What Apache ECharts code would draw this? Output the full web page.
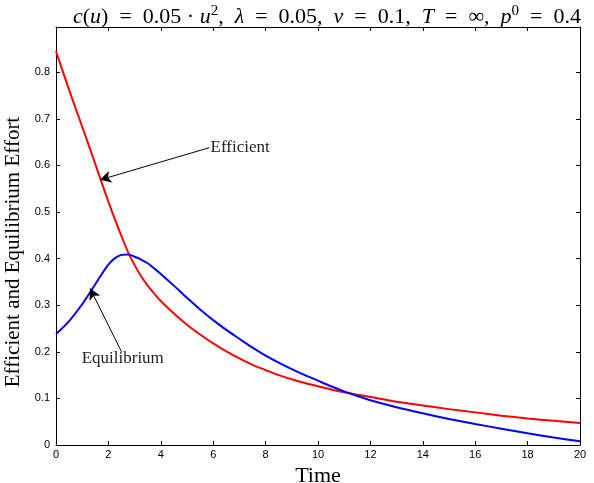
<!DOCTYPE html>
<html>
<head>
<meta charset="utf-8">
<script src="https://cdn.jsdelivr.net/npm/echarts@6/dist/echarts.min.js"></script>
<style>html,body{margin:0;padding:0;background:#fff}#c{width:594px;height:483px}</style>
</head>
<body>
<div id="c"></div>
<script>
// Data
const time = [0,0.5,1,1.5,1.75,2,2.25,2.5,2.75,3,3.25,3.5,3.75,4,4.5,5,5.5,6,6.5,7,7.5,8,8.5,9,9.5,10,10.5,11,11.5,12,13,14,15,16,17,18,19,20];
const efficient = [0.845,0.762,0.683,0.603,0.562,0.522,0.484,0.448,0.414,0.386,0.362,0.342,0.325,0.309,0.282,0.258,0.237,0.218,0.201,0.186,0.172,0.161,0.150,0.141,0.133,0.126,0.119,0.113,0.108,0.103,0.093,0.085,0.077,0.070,0.063,0.057,0.052,0.047];
const equilibrium = [0.238,0.266,0.302,0.345,0.367,0.387,0.401,0.408,0.409,0.404,0.398,0.390,0.379,0.367,0.342,0.316,0.291,0.268,0.247,0.228,0.209,0.192,0.177,0.163,0.150,0.138,0.126,0.115,0.105,0.096,0.081,0.068,0.056,0.045,0.035,0.025,0.016,0.008];
const xTicks = {min:0, max:20, interval:2};
const yTicks = {min:0, max:0.897, interval:0.1};
// annotations (data units)
const annEfficient = {text:'Efficient', textAt:[5.9,0.638], tail:[5.85,0.638], tip:[1.68,0.569]};
const annEquilibrium = {text:'Equilibrium', textAt:[0.98,0.186], tail:[2.5,0.2], tip:[1.3,0.336]};

const pairs = (xs, ys) => xs.map((x,i)=>[x,ys[i]]);
const serif = 'Liberation Serif';
const sans = 'Liberation Sans';
const E = '\u2002';

const chart = echarts.init(document.getElementById('c'));
const yFmt = v => (Math.abs(v/0.1 - Math.round(v/0.1)) < 1e-6) ? (Math.round(v*10)/10).toString() : '';
const fs = 22;
chart.setOption({
  animation:false,
  title:{
    left:68, top:-1,
    text:'{i|c}{n|(}{i|u}{n|)'+E+'='+E+'0.05 · }{i|u}{s|2}{n|,'+E+'}{i|λ}{n|'+E+'='+E+'0.05,'+E+'}{i|v}{n|'+E+'='+E+'0.1,'+E+'}{i|T}{n|'+E+'='+E+'∞,'+E+'}{i|p}{s|0}{n|'+E+'='+E+'0.4}',
    textStyle:{fontFamily:serif, fontSize:fs, fontWeight:'normal', color:'#000',
      rich:{i:{fontFamily:serif, fontStyle:'italic', fontSize:fs, color:'#000', lineHeight:26},
            n:{fontFamily:serif, fontSize:fs, color:'#000', lineHeight:26},
            s:{fontFamily:serif, fontSize:15, color:'#000', verticalAlign:'top', lineHeight:26, padding:[0,0,10,0]}}}
  },
  grid:{left:56, right:14, top:27, bottom:38, show:false, outerBoundsMode:'none', containLabel:false},
  xAxis:[{
    type:'value', min:xTicks.min, max:xTicks.max, interval:xTicks.interval,
    name:'Time', nameLocation:'middle', nameGap:7,
    nameTextStyle:{fontFamily:serif, fontSize:22, color:'#000'},
    axisLine:{show:true, onZero:false, lineStyle:{color:'#000', width:1}},
    axisTick:{show:true, inside:true, length:4, lineStyle:{color:'#000'}},
    axisLabel:{fontFamily:sans, fontSize:11, color:'#000', margin:4},
    splitLine:{show:false}
  },{
    type:'value', position:'top', min:xTicks.min, max:xTicks.max, interval:xTicks.interval,
    axisLine:{show:true, onZero:false, lineStyle:{color:'#000', width:1}},
    axisTick:{show:true, inside:true, length:4, lineStyle:{color:'#000'}},
    axisLabel:{show:false}, splitLine:{show:false}
  }],
  yAxis:[{
    type:'value', min:yTicks.min, max:yTicks.max, interval:yTicks.interval,
    name:'Efficient and Equilibrium Effort', nameLocation:'middle', nameGap:29,
    nameTextStyle:{fontFamily:serif, fontSize:21, color:'#000', padding:[0,32,0,0]},
    axisLine:{show:true, onZero:false, lineStyle:{color:'#000', width:1}},
    axisTick:{show:true, inside:true, length:4, lineStyle:{color:'#000'}},
    axisLabel:{fontFamily:sans, fontSize:11, color:'#000', margin:6, formatter:yFmt, showMaxLabel:false},
    splitLine:{show:false}
  },{
    type:'value', position:'right', min:yTicks.min, max:yTicks.max, interval:yTicks.interval,
    axisLine:{show:true, onZero:false, lineStyle:{color:'#000', width:1}},
    axisTick:{show:true, inside:true, length:4, lineStyle:{color:'#000'}},
    axisLabel:{show:false}, splitLine:{show:false}
  }],
  series:[{
    name:'Efficient', type:'line', data:pairs(time, efficient), smooth:0.3,
    showSymbol:false, lineStyle:{color:'#ff0000', width:2}, itemStyle:{color:'#ff0000'}, z:3,
    markLine:{silent:true, symbol:['none','arrow'], symbolSize:[9,11],
      lineStyle:{color:'#000', width:1, type:'solid'}, label:{show:false},
      data:[[{coord:annEfficient.tail},{coord:annEfficient.tip}],[{coord:annEquilibrium.tail},{coord:annEquilibrium.tip}]]},
    markPoint:{silent:true, symbol:'circle', symbolSize:0,
      label:{show:true, position:'right', distance:0, fontFamily:serif, fontSize:17, color:'#222'},
      data:[{coord:annEfficient.textAt, label:{formatter:annEfficient.text}},
            {coord:annEquilibrium.textAt, label:{formatter:annEquilibrium.text}}]}
  },{
    name:'Equilibrium', type:'line', data:pairs(time, equilibrium), smooth:0.3,
    showSymbol:false, lineStyle:{color:'#0000ff', width:2}, itemStyle:{color:'#0000ff'}, z:4
  }]
});
</script>
</body>
</html>
